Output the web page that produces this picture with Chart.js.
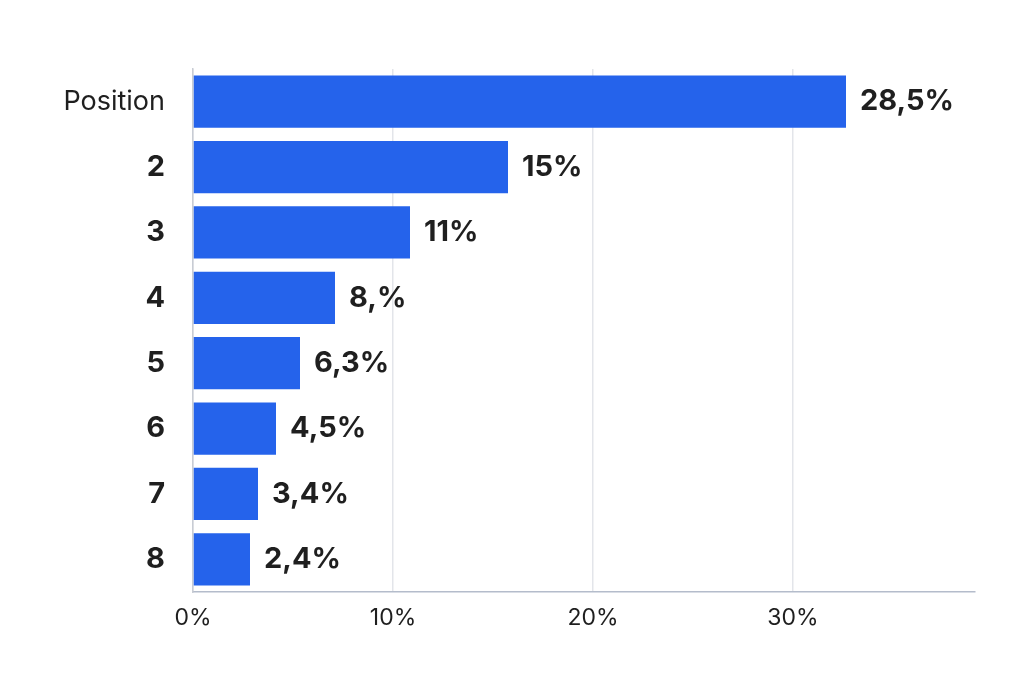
<!DOCTYPE html>
<html><head><meta charset="utf-8">
<script src="https://cdn.jsdelivr.net/npm/chart.js@4"></script>
<style>html,body{margin:0;background:#fff}#w{width:1024px;height:683px}</style>
</head><body><div id="w"><canvas id="c"></canvas></div>
<script>
const categories = ["Position","2","3","4","5","6","7","8"];
const values = [32.65, 15.75, 10.85, 7.1, 5.35, 4.15, 3.25, 2.85];
const valueLabels = ["28,5%","15%","11%","8,%","6,3%","4,5%","3,4%","2,4%"];
const xTicks = [0,10,20,30];

const labelPlugin = {
  id:'lbl',
  afterDatasetsDraw(chart){
    const ctx = chart.ctx;
    const meta = chart.getDatasetMeta(0);
    ctx.save();
    ctx.fillStyle = '#1f1f1f';
    ctx.font = 'bold 29px Inter, "Noto Sans", sans-serif';
    ctx.textBaseline = 'middle';
    meta.data.forEach((b,i)=>{ ctx.fillText(valueLabels[i], b.x + 14, b.y); });
    ctx.restore();
  }
};

new Chart(document.getElementById('c'), {
  type:'bar',
  data:{labels:categories, datasets:[{data:values, backgroundColor:'#2563eb', barPercentage:0.8, categoryPercentage:1}]},
  plugins:[labelPlugin],
  options:{
    indexAxis:'y', responsive:true, maintainAspectRatio:false, animation:false,
    layout:{padding:{left:0,right:49,top:69,bottom:41}},
    plugins:{legend:{display:false}, tooltip:{enabled:false}},
    scales:{
      x:{min:0,max:39.1,
        afterBuildTicks(s){ s.ticks = xTicks.map(v=>({value:v})); },
        afterFit(s){ s.height = 50; },
        grid:{color:'#e3e5ea', lineWidth:1.5, drawTicks:false},
        border:{display:true,color:'#b4bccb',width:1.5},
        ticks:{padding:12,color:'#1f1f1f',font:{size:23,family:'Inter, "Noto Sans", sans-serif'},callback:v=>v+'%'}
      },
      y:{
        afterFit(s){ s.width = 193; },
        grid:{display:false},
        border:{display:true,color:'#c8ccd4',width:1.5},
        ticks:{padding:20,color:'#1f1f1f',
          font:c=>({size:c.index===0?27:29, weight:c.index===0?'normal':'bold', family:'Inter, "Noto Sans", sans-serif'})}
      }
    }
  }
});
</script></body></html>
